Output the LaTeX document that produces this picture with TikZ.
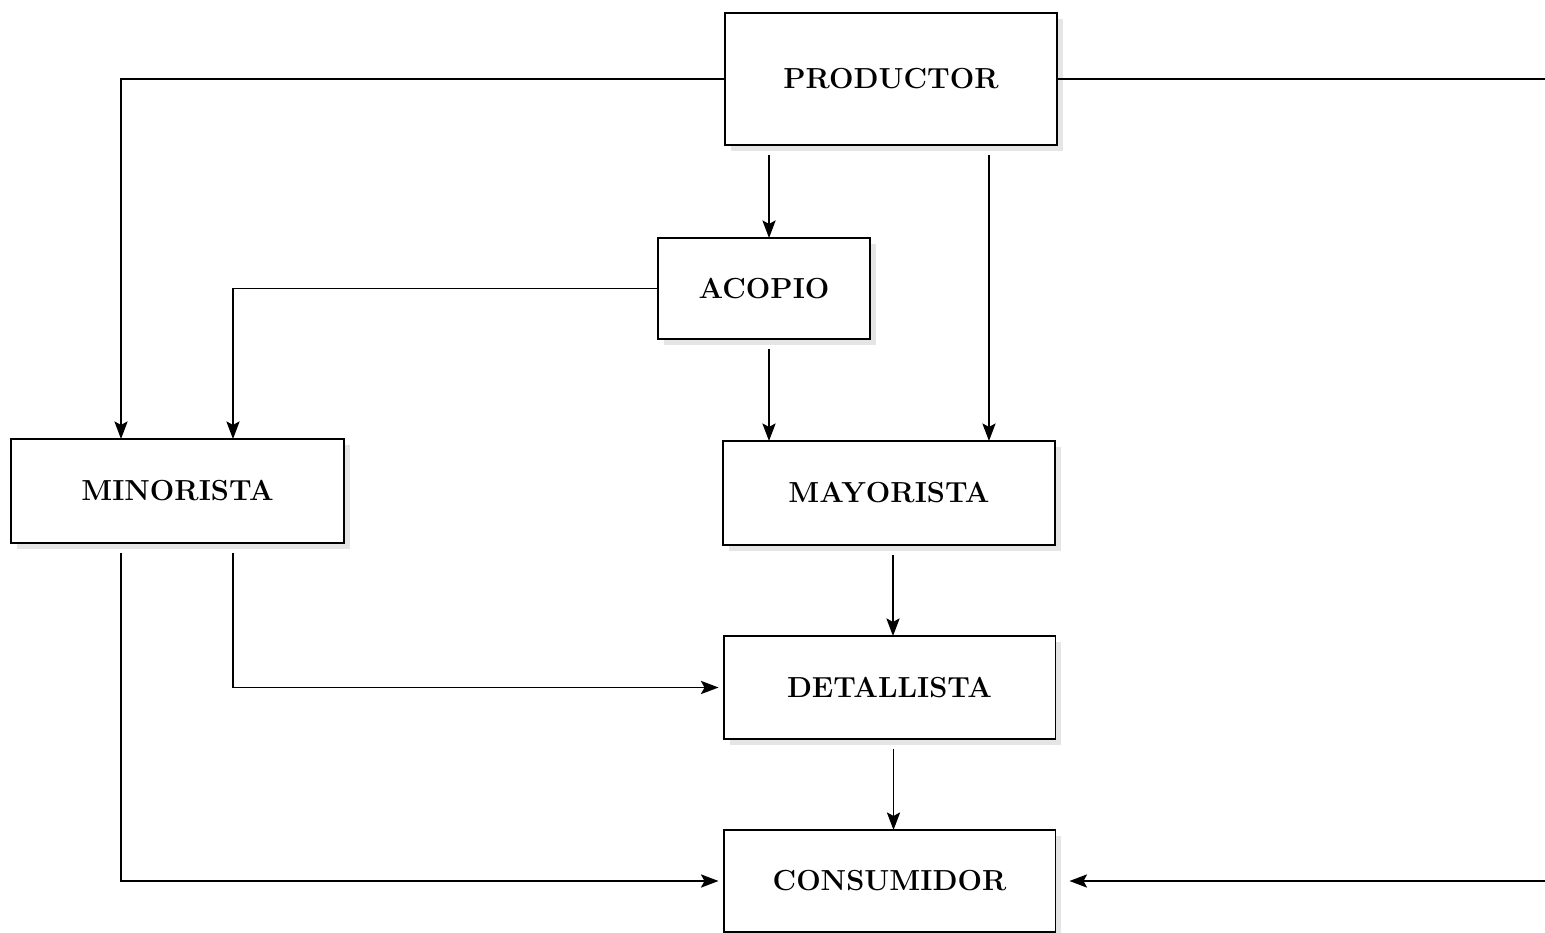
\documentclass[tikz,border=0pt]{standalone}
\usetikzlibrary{arrows.meta,shadows}
\begin{document}
\begin{tikzpicture}[x=0.02cm,y=-0.02cm,
  box/.style={draw,line width=1.1pt,fill=white,inner sep=0pt,outer sep=0pt,
    minimum width=6.64cm,minimum height=2.06cm,
    font=\fontsize{16.5}{19}\selectfont\bfseries,
    drop shadow={shadow xshift=0.12cm,shadow yshift=-0.12cm,fill=black!10,opacity=1}},
  conn/.style={line width=1.1pt},
  arr/.style={conn,-{Stealth[length=10pt,width=7.5pt,inset=2pt]}}]
\useasboundingbox (0,0) rectangle (1545,933);
\node[box,minimum height=2.64cm] (prod) at (891,79) {PRODUCTOR};
\node[box,minimum width=4.24cm,minimum height=2.02cm] (acop) at (764,288.5) {ACOPIO};
\node[box,minimum width=6.66cm,minimum height=2.08cm] (mino) at (177.5,491) {MINORISTA};
\node[box,minimum height=2.08cm] (mayo) at (889,493) {MAYORISTA};
\node[box] (deta) at (889.5,687.5) {DETALLISTA};
\node[box,minimum height=2.04cm] (cons) at (889.5,881) {CONSUMIDOR};
\coordinate (re1) at (1545,79);
\coordinate (re2) at (1545,881);
% connectors
\draw[arr] (prod.west) -| ([xshift=-1.13cm]mino.north);
\draw[conn] (prod.east) -- (re1);
\draw[arr,shorten <=0.2cm] ([xshift=-2.44cm]prod.south) -- ([xshift=-2.44cm]prod.south |- acop.north);
\draw[arr,shorten <=0.2cm] ([xshift=1.96cm]prod.south) -- ([xshift=1.96cm]prod.south |- mayo.north);
\draw[arr] (acop.west) -| ([xshift=1.11cm]mino.north);
\draw[arr,shorten <=0.2cm] ([xshift=0.1cm]acop.south) -- ([xshift=0.1cm]acop.south |- mayo.north);
\draw[arr,shorten <=0.2cm] ([xshift=0.08cm]mayo.south) -- ([xshift=0.08cm]mayo.south |- deta.north);
\draw[arr,shorten <=0.2cm,shorten >=0.1cm] ([xshift=1.11cm]mino.south) |- (deta.west);
\draw[arr,shorten <=0.2cm,shorten >=0.1cm] ([xshift=-1.13cm]mino.south) |- (cons.west);
\draw[arr,shorten <=0.2cm] ([xshift=0.08cm]deta.south) -- ([xshift=0.08cm]deta.south |- cons.north);
\draw[arr,shorten >=0.28cm] (re2) -- (cons.east);
\end{tikzpicture}
\end{document}
